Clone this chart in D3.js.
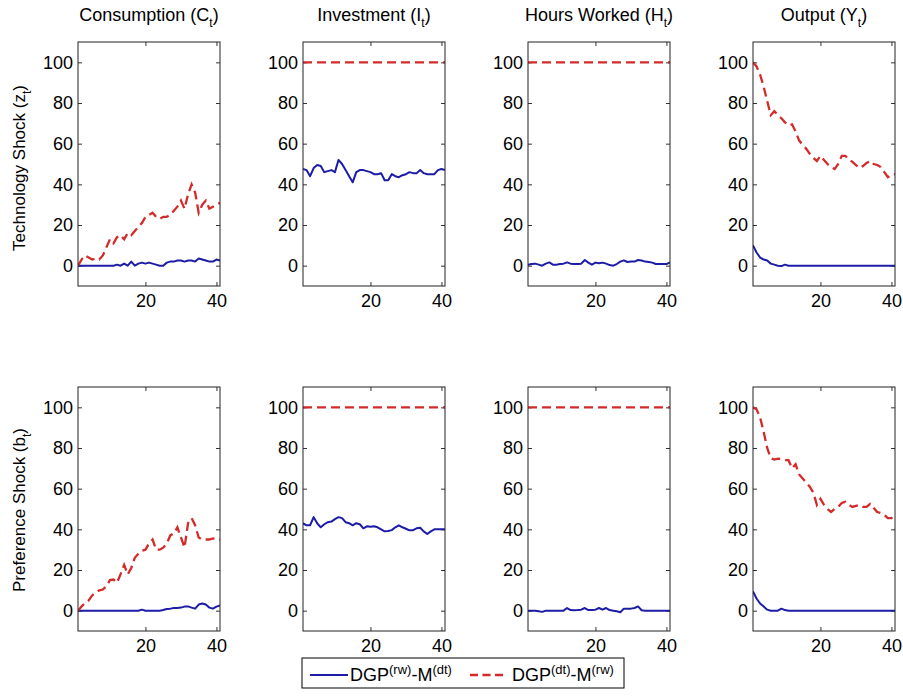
<!DOCTYPE html>
<html>
<head>
<meta charset="utf-8">
<script src="https://cdn.jsdelivr.net/npm/d3@7"></script>
<style>
  html, body { margin: 0; padding: 0; background: #fff; }
  svg { display: block; font-family: "Liberation Sans", Arial, Helvetica, sans-serif; }
</style>
</head>
<body>
<svg id="chart" width="903" height="697"></svg>
<script>
// ---------------- DATA ----------------
const horizon = d3.range(1, 42); // t = 1 .. 41
const variableNames = ["Consumption", "Investment", "Hours Worked", "Output"];
const variableSymbols = ["C", "I", "H", "Y"];
const shockNames = ["Technology Shock", "Preference Shock"];
const shockSymbols = ["z", "b"];
const yTicks = [0, 20, 40, 60, 80, 100];
const xTicks = [20, 40];
const seriesNames = [["DGP", "(rw)", "-M", "(dt)"], ["DGP", "(dt)", "-M", "(rw)"]];

// Technology shock, DGP(rw)-M(dt) (blue solid)
const techConsRW = [0,0,0,0,0,0,0,0,0,0,0,0.5,0,1,0,2,0,1,1.5,1,1.5,1,0.5,0,0,1.5,2,2,2.5,2.5,2,2.5,2.5,2,3.5,3,2.5,2,2,3,2.5];
const techInvRW  = [47.5,47,44,48,49.5,49,46,46.5,47,46,52,50,47,44,41,46,47,47,46.5,46,45,45,45.5,42,42,45,44,43.5,44.5,45,46,45.5,45.5,47,45.5,45,45,45,47,47.5,47];
const techHrsRW  = [0.5,0.8,1,0.5,0,1,1.6,0.5,0.5,0.8,1,1.6,1,0.8,0.8,1,2.8,1.5,0.5,1.5,1.2,1.5,1,0.3,0,0.8,2,2.6,1.8,2,2,2.8,2.5,2,1.8,1.5,0.8,0.8,0.8,0.8,1.6];
const techOutRW  = [10,6.5,4,3,2.5,1,0.5,0,-0.2,0.5,0,0,0,0,0,0,0,0,0,0,0,0,0,0,0,0,0,0,0,0,0,0,0,0,0,0,0,0,0,0,0];
// Technology shock, DGP(dt)-M(rw) (red dashed)
const techConsDT = [0,3,5,4,3,3.5,3,5,9,13,11,14,15,13,16,15,17,19,21,24,25,26,24,23,24,24,25,27,29,32,28,35,40,36,26,30,32,28,29,30,31];
const techInvDT  = [100,100,100,100,100,100,100,100,100,100,100,100,100,100,100,100,100,100,100,100,100,100,100,100,100,100,100,100,100,100,100,100,100,100,100,100,100,100,100,100,100];
const techHrsDT  = [100,100,100,100,100,100,100,100,100,100,100,100,100,100,100,100,100,100,100,100,100,100,100,100,100,100,100,100,100,100,100,100,100,100,100,100,100,100,100,100,100];
const techOutDT  = [100,98,94,88,81,74,76,74,72.5,70.5,69,69.5,66,61.5,59.5,57.5,55,53,51.5,54,52,50,48.5,47.5,50,54,54,52.5,51,49.5,48,49,50.5,51.5,50,49.5,48.5,46,43.5,44.5,45];

// Preference shock, DGP(rw)-M(dt) (blue solid)
const prefConsRW = [0,0,0,0,0,0,0,0,0,0,0,0,0,0,0,0,0,0,0.5,0,0,0,0,0,0.3,0.8,1,1.3,1.3,1.5,2,2.1,1.5,1,3,3.5,3,1.5,1,2,2.5];
const prefInvRW  = [43,42,42,46,43,41,42.5,43.5,43.8,45,46,45.5,43.5,43,42,43,42.5,40.5,41.5,41.3,41.5,41,40,39,39.2,39.6,41,42,41,40.3,39.5,39.6,40.5,40.8,39,37.7,39,40,40,40,40];
const prefHrsRW  = [0,0,0,-0.3,-0.6,0,0,0,0,0,0,1.3,0.3,0.2,0.3,0.5,1.3,0.3,0.3,0.5,1.3,0.5,1.3,0.3,0,-0.3,-0.8,1,1,1,1.3,2.1,0.2,0,0,0,0,0,0,0,0];
const prefOutRW  = [9.5,6,3.5,2,0.5,0,0,0,1,0.3,0,0,0,0,0,0,0,0,0,0,0,0,0,0,0,0,0,0,0,0,0,0,0,0,0,0,0,0,0,0,0];
// Preference shock, DGP(dt)-M(rw) (red dashed)
const prefConsDT = [0,2,4,5,7.5,9,10,10.4,12,15,15.3,13.7,18,22.5,17.8,21,26,28,29.5,30,33,35,30,30,31,33,37,38,41,36,31,43,45.5,42,36,35,35,35,35.5,35,35];
const prefInvDT  = [100,100,100,100,100,100,100,100,100,100,100,100,100,100,100,100,100,100,100,100,100,100,100,100,100,100,100,100,100,100,100,100,100,100,100,100,100,100,100,100,100];
const prefHrsDT  = [100,100,100,100,100,100,100,100,100,100,100,100,100,100,100,100,100,100,100,100,100,100,100,100,100,100,100,100,100,100,100,100,100,100,100,100,100,100,100,100,100];
const prefOutDT  = [100,99,95,88,80,75,74.3,74.8,74.5,74,74,70,72,67,65,63,61,58,52,55,52,50,48.5,50,51,53,53.5,52,51,51.5,52,51,51,52.5,50.5,48.5,48,47,45.5,45.5,47];

const rwSeries = [[techConsRW, techInvRW, techHrsRW, techOutRW], [prefConsRW, prefInvRW, prefHrsRW, prefOutRW]];
const dtSeries = [[techConsDT, techInvDT, techHrsDT, techOutDT], [prefConsDT, prefInvDT, prefHrsDT, prefOutDT]];

// ---------------- LAYOUT ----------------
const colLeft = [78, 303, 528, 753];
const rowTop = [42, 387];
const pw = 142, ph = 244;
const blue = "#1c1ca6", red = "#d42a2a";
const fontMain = 18;

const svg = d3.select("#chart");
const x = d3.scaleLinear().domain([1, 41]).range([0, pw]);
const y = d3.scaleLinear().domain([-10, 110]).range([ph, 0]);

const line = d3.line().x((d, i) => x(horizon[i])).y(d => y(d));

function subText(sel, main, sub, subSize, dyDown) {
  sel.append("tspan").text(main);
  sel.append("tspan").attr("font-size", subSize).attr("dy", dyDown).text(sub);
  sel.append("tspan").attr("dy", -dyDown).text(")");
}

for (let r = 0; r < 2; r++) {
  for (let c = 0; c < 4; c++) {
    const g = svg.append("g").attr("transform", `translate(${colLeft[c]},${rowTop[r]})`);
    const clipId = `clip-${r}-${c}`;
    g.append("clipPath").attr("id", clipId).append("rect").attr("width", pw).attr("height", ph);

    // axes (ticks inside on all sides)
    const left = g.append("g").call(d3.axisLeft(y).tickValues(yTicks).tickSizeInner(-4).tickSizeOuter(0).tickPadding(5));
    const right = g.append("g").attr("transform", `translate(${pw},0)`).call(d3.axisRight(y).tickValues(yTicks).tickSizeInner(-4).tickSizeOuter(0).tickFormat(""));
    const bottom = g.append("g").attr("transform", `translate(0,${ph})`).call(d3.axisBottom(x).tickValues(xTicks).tickSizeInner(-4).tickSizeOuter(0).tickPadding(8));
    const top = g.append("g").call(d3.axisTop(x).tickValues(xTicks).tickSizeInner(-4).tickSizeOuter(0).tickFormat(""));
    [left, right, bottom, top].forEach(a => {
      a.select(".domain").remove();
      a.selectAll("line").attr("stroke", "#333");
      a.selectAll("text").attr("font-size", fontMain).attr("fill", "#000")
        .attr("font-family", "'Liberation Sans', Arial, Helvetica, sans-serif");
    });

    // series
    const plot = g.append("g").attr("clip-path", `url(#${clipId})`);
    plot.append("path").datum(rwSeries[r][c]).attr("d", line)
      .attr("fill", "none").attr("stroke", blue).attr("stroke-width", 2).attr("stroke-linejoin", "round");
    plot.append("path").datum(dtSeries[r][c]).attr("d", line)
      .attr("fill", "none").attr("stroke", red).attr("stroke-width", 2.3).attr("stroke-dasharray", "9,5");

    // frame
    g.append("rect").attr("width", pw).attr("height", ph).attr("fill", "none").attr("stroke", "#222").attr("stroke-width", 1);

    // column titles
    if (r === 0) {
      const t = svg.append("text").attr("x", colLeft[c] + pw / 2).attr("y", 21)
        .attr("text-anchor", "middle").attr("font-size", fontMain);
      subText(t, `${variableNames[c]} (${variableSymbols[c]}`, "t", 12, 6);
    }
    // row labels
    if (c === 0) {
      const cy = rowTop[r] + ph / 2 + (r === 0 ? 4 : 1);
      const t = svg.append("text").attr("transform", `translate(25,${cy}) rotate(-90)`)
        .attr("text-anchor", "middle").attr("font-size", 17);
      subText(t, `${shockNames[r]} (${shockSymbols[r]}`, "t", 12, 6);
    }
  }
}

// ---------------- LEGEND ----------------
const lg = svg.append("g");
lg.append("rect").attr("x", 302).attr("y", 658).attr("width", 322).attr("height", 30)
  .attr("fill", "#fff").attr("stroke", "#000").attr("stroke-width", 1);
lg.append("line").attr("x1", 310).attr("x2", 348).attr("y1", 675).attr("y2", 675)
  .attr("stroke", blue).attr("stroke-width", 2);
lg.append("line").attr("x1", 470).attr("x2", 503).attr("y1", 675).attr("y2", 675)
  .attr("stroke", red).attr("stroke-width", 2.3).attr("stroke-dasharray", "8,4.5");
function legendText(xPos, parts) {
  const t = lg.append("text").attr("x", xPos).attr("y", 681).attr("font-size", fontMain);
  t.append("tspan").text(parts[0]);
  t.append("tspan").attr("font-size", 13).attr("dy", -7).text(parts[1]);
  t.append("tspan").attr("dy", 7).text(parts[2]);
  t.append("tspan").attr("font-size", 13).attr("dy", -7).text(parts[3]);
}
legendText(350, seriesNames[0]);
legendText(512, seriesNames[1]);
</script>
</body>
</html>
